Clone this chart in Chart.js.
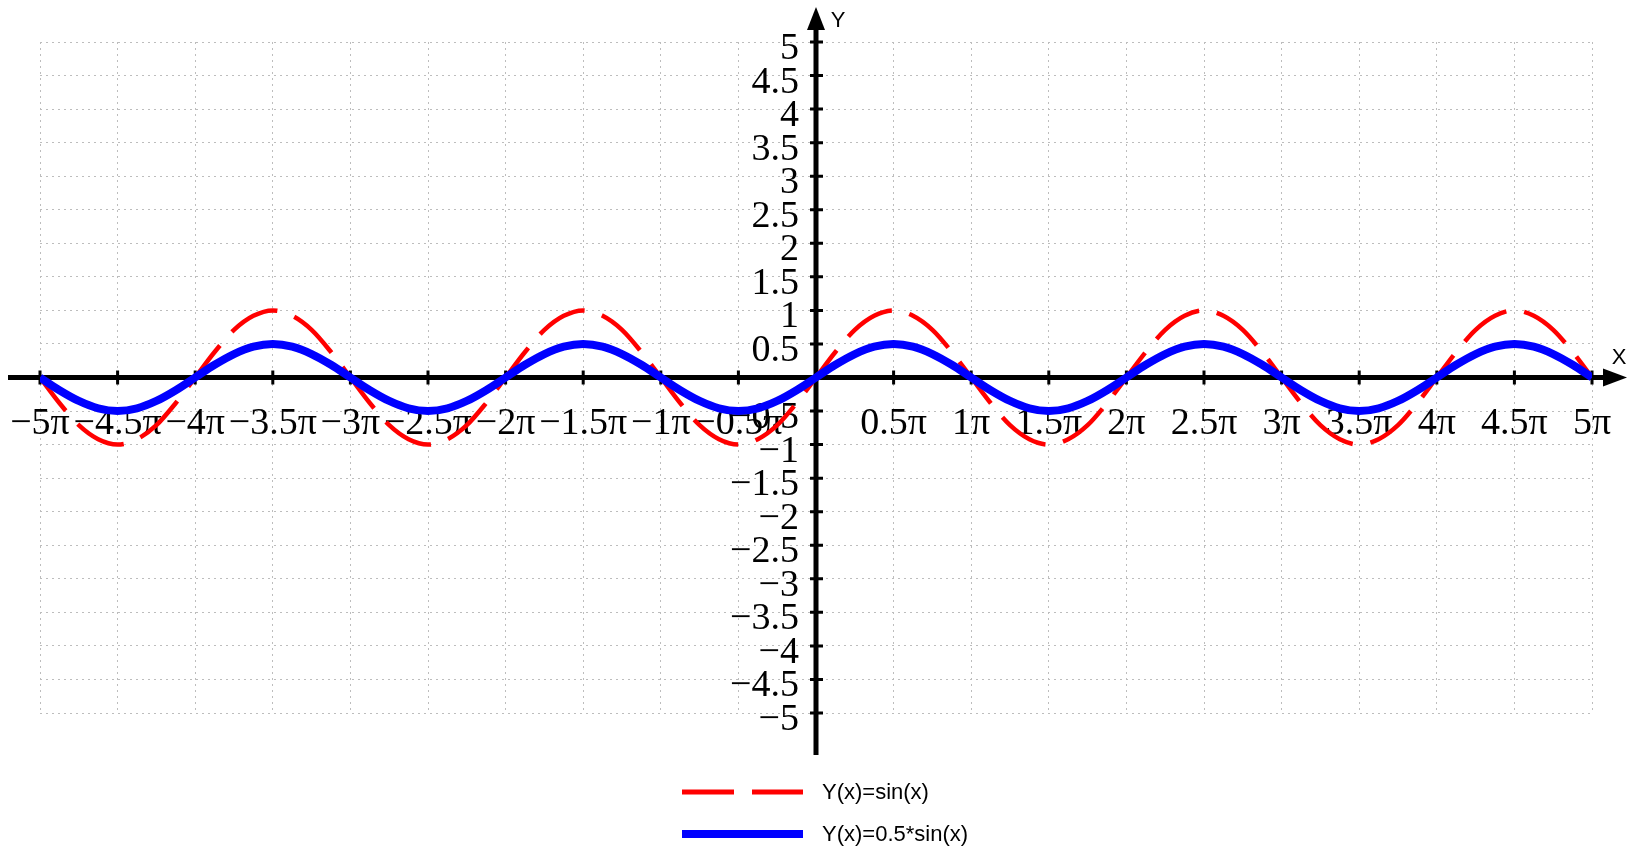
<!DOCTYPE html>
<html>
<head>
<meta charset="utf-8">
<title>Y(x)=sin(x) and Y(x)=0.5*sin(x)</title>
<script src="https://cdn.jsdelivr.net/npm/chart.js@4.4.1/dist/chart.umd.min.js"></script>
<style>
    html, body { margin: 0; padding: 0; background: #ffffff; }
    #wrap { position: relative; width: 1632px; height: 854px; }
</style>
</head>
<body>
<div id="wrap"><canvas id="sine-chart"></canvas></div>
<script>
// x positions, in units of pi, every pi/8 from -5pi to 5pi
const xPi = [
    -5, -4.875, -4.75, -4.625, -4.5, -4.375, -4.25, -4.125,
    -4, -3.875, -3.75, -3.625, -3.5, -3.375, -3.25, -3.125,
    -3, -2.875, -2.75, -2.625, -2.5, -2.375, -2.25, -2.125,
    -2, -1.875, -1.75, -1.625, -1.5, -1.375, -1.25, -1.125,
    -1, -0.875, -0.75, -0.625, -0.5, -0.375, -0.25, -0.125,
    0, 0.125, 0.25, 0.375, 0.5, 0.625, 0.75, 0.875,
    1, 1.125, 1.25, 1.375, 1.5, 1.625, 1.75, 1.875,
    2, 2.125, 2.25, 2.375, 2.5, 2.625, 2.75, 2.875,
    3, 3.125, 3.25, 3.375, 3.5, 3.625, 3.75, 3.875,
    4, 4.125, 4.25, 4.375, 4.5, 4.625, 4.75, 4.875,
    5
];

// Y(x)=sin(x)
const sinY = [
    0, -0.38, -0.71, -0.92, -1, -0.92, -0.71, -0.38,
    0, 0.38, 0.71, 0.92, 1, 0.92, 0.71, 0.38,
    0, -0.38, -0.71, -0.92, -1, -0.92, -0.71, -0.38,
    0, 0.38, 0.71, 0.92, 1, 0.92, 0.71, 0.38,
    0, -0.38, -0.71, -0.92, -1, -0.92, -0.71, -0.38,
    0, 0.38, 0.71, 0.92, 1, 0.92, 0.71, 0.38,
    0, -0.38, -0.71, -0.92, -1, -0.92, -0.71, -0.38,
    0, 0.38, 0.71, 0.92, 1, 0.92, 0.71, 0.38,
    0, -0.38, -0.71, -0.92, -1, -0.92, -0.71, -0.38,
    0, 0.38, 0.71, 0.92, 1, 0.92, 0.71, 0.38,
    0
];

// Y(x)=0.5*sin(x)
const halfSinY = [
    0, -0.19, -0.35, -0.46, -0.5, -0.46, -0.35, -0.19,
    0, 0.19, 0.35, 0.46, 0.5, 0.46, 0.35, 0.19,
    0, -0.19, -0.35, -0.46, -0.5, -0.46, -0.35, -0.19,
    0, 0.19, 0.35, 0.46, 0.5, 0.46, 0.35, 0.19,
    0, -0.19, -0.35, -0.46, -0.5, -0.46, -0.35, -0.19,
    0, 0.19, 0.35, 0.46, 0.5, 0.46, 0.35, 0.19,
    0, -0.19, -0.35, -0.46, -0.5, -0.46, -0.35, -0.19,
    0, 0.19, 0.35, 0.46, 0.5, 0.46, 0.35, 0.19,
    0, -0.19, -0.35, -0.46, -0.5, -0.46, -0.35, -0.19,
    0, 0.19, 0.35, 0.46, 0.5, 0.46, 0.35, 0.19,
    0
];

const seriesNames = ['Y(x)=sin(x)', 'Y(x)=0.5*sin(x)'];
const axisNames = ['X', 'Y'];

const MINUS = '\u2212';
const serifFont = '"Liberation Serif", "Times New Roman", serif';
const sansFont = '"Liberation Sans", Arial, sans-serif';

function toPoints(ys) {
    return xPi.map((x, i) => ({ x: x, y: ys[i] }));
}

function piLabel(v) {
    if (Math.abs(v) < 1e-9) return '';
    return (v < 0 ? MINUS : '') + Math.abs(v) + '\u03c0';
}

function yLabel(v) {
    if (Math.abs(v) < 1e-9) return '';
    return (v < 0 ? MINUS : '') + Math.abs(v);
}

// the y scale takes no room in the layout; move its right edge onto x = 0 once
// the layout is done (labels are clipped to left..right, so keep left at 0)
const yOnOrigin = {
    id: 'yOnOrigin',
    afterLayout(chart) {
        const y = chart.scales.y;
        const x0 = chart.scales.x.getPixelForValue(0);
        y.left = 0;
        y.right = x0;
    }
};

// black axes through the origin, with arrows, tick marks and X / Y captions
const crossAxes = {
    id: 'crossAxes',
    beforeDatasetsDraw(chart) {
        const { ctx, chartArea, scales: { x, y } } = chart;
        const x0 = x.getPixelForValue(0);
        const y0 = y.getPixelForValue(0);

        ctx.save();
        ctx.strokeStyle = '#000';
        ctx.fillStyle = '#000';
        ctx.lineWidth = 5;
        ctx.beginPath();
        ctx.moveTo(chartArea.left - 32, y0);
        ctx.lineTo(chartArea.right + 14, y0);
        ctx.moveTo(x0, chartArea.bottom + 42);
        ctx.lineTo(x0, chartArea.top - 14);
        ctx.stroke();

        // arrow heads
        ctx.beginPath();
        ctx.moveTo(chartArea.right + 35, y0);
        ctx.lineTo(chartArea.right + 11, y0 - 9);
        ctx.lineTo(chartArea.right + 11, y0 + 9);
        ctx.closePath();
        ctx.fill();
        ctx.beginPath();
        ctx.moveTo(x0, chartArea.top - 35);
        ctx.lineTo(x0 - 9, chartArea.top - 12);
        ctx.lineTo(x0 + 9, chartArea.top - 12);
        ctx.closePath();
        ctx.fill();

        // tick marks straddling the axes
        ctx.lineWidth = 3;
        ctx.beginPath();
        x.ticks.forEach((t, i) => {
            const px = x.getPixelForTick(i);
            ctx.moveTo(px, y0 - 7);
            ctx.lineTo(px, y0 + 7);
        });
        y.ticks.forEach((t, i) => {
            const py = y.getPixelForTick(i);
            ctx.moveTo(x0 - 6, py);
            ctx.lineTo(x0 + 7, py);
        });
        ctx.stroke();

        ctx.font = '22px ' + sansFont;
        ctx.textAlign = 'center';
        ctx.textBaseline = 'middle';
        ctx.fillText(axisNames[0], chartArea.right + 27, y0 - 20);
        ctx.fillText(axisNames[1], x0 + 22, chartArea.top - 21);
        ctx.restore();
    }
};

// legend stacked under the plot, centred
const stackedLegend = {
    id: 'stackedLegend',
    afterDraw(chart) {
        const { ctx } = chart;
        const left = 682;
        const sampleLen = 121;
        const rows = [792, 834];
        const widths = [5, 8];

        chart.data.datasets.forEach((ds, i) => {
            ctx.save();
            ctx.strokeStyle = ds.borderColor;
            ctx.lineWidth = widths[i];
            ctx.setLineDash(ds.borderDash || []);
            ctx.beginPath();
            ctx.moveTo(left, rows[i]);
            ctx.lineTo(left + sampleLen, rows[i]);
            ctx.stroke();
            ctx.setLineDash([]);
            ctx.fillStyle = '#000';
            ctx.font = '22px ' + sansFont;
            ctx.textAlign = 'left';
            ctx.textBaseline = 'middle';
            ctx.fillText(ds.label, left + sampleLen + 19, rows[i] + 1);
            ctx.restore();
        });
    }
};

const gridStyle = {
    color: '#bdbdbd',
    lineWidth: 1,
    drawTicks: false
};

// grid lines take their dash from border.dash in Chart.js 4
const dottedBorder = { display: false, dash: [2, 4] };

new Chart(document.getElementById('sine-chart'), {
    type: 'line',
    data: {
        datasets: [
            {
                label: seriesNames[0],
                data: toPoints(sinY),
                borderColor: '#ff0000',
                borderWidth: 4.5,
                borderDash: [52, 18],
                borderDashOffset: 10,
                pointRadius: 0,
                cubicInterpolationMode: 'monotone',
                fill: false,
                order: 1
            },
            {
                label: seriesNames[1],
                data: toPoints(halfSinY),
                borderColor: '#0000ff',
                borderWidth: 8,
                pointRadius: 0,
                cubicInterpolationMode: 'monotone',
                fill: false,
                order: 0
            }
        ]
    },
    options: {
        responsive: true,
        maintainAspectRatio: false,
        animation: false,
        layout: {
            padding: { left: 40, right: 40, top: 42, bottom: 141 }
        },
        plugins: {
            legend: { display: false },
            tooltip: { enabled: false }
        },
        scales: {
            x: {
                type: 'linear',
                position: { y: 0 },
                min: -5,
                max: 5,
                border: dottedBorder,
                grid: gridStyle,
                ticks: {
                    stepSize: 0.5,
                    autoSkip: false,
                    maxRotation: 0,
                    padding: 24,
                    color: '#000',
                    font: { family: serifFont, size: 38 },
                    callback: (v) => piLabel(v)
                },
                afterFit: (scale) => {
                    scale.paddingLeft = 0;
                    scale.paddingRight = 0;
                }
            },
            y: {
                type: 'linear',
                position: 'left',
                min: -5,
                max: 5,
                border: dottedBorder,
                grid: gridStyle,
                ticks: {
                    stepSize: 0.5,
                    autoSkip: false,
                    padding: 17,
                    labelOffset: 7,
                    color: '#000',
                    font: { family: serifFont, size: 38 },
                    callback: (v) => yLabel(v)
                },
                afterFit: (scale) => {
                    scale.width = 0;
                    scale.paddingTop = 0;
                    scale.paddingBottom = 0;
                }
            }
        }
    },
    plugins: [yOnOrigin, crossAxes, stackedLegend]
});
</script>
</body>
</html>
